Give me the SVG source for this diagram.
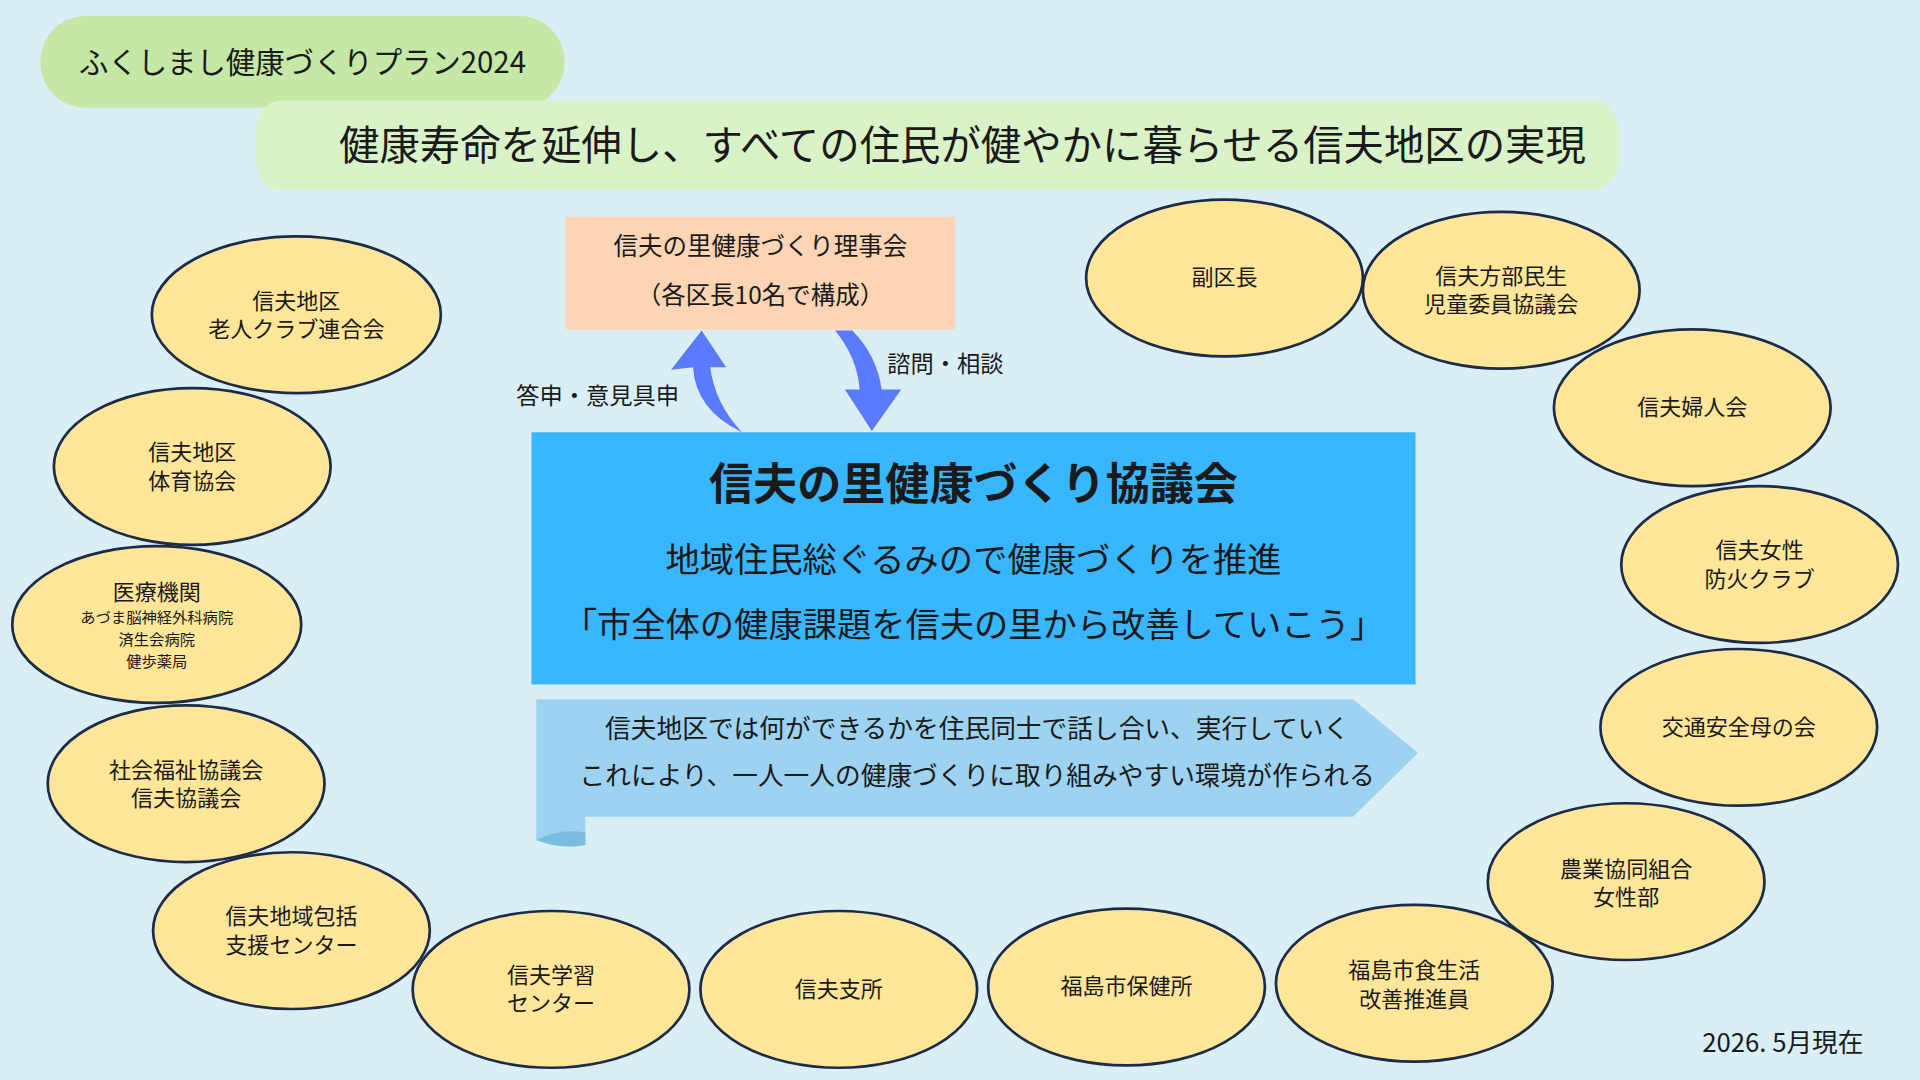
<svg xmlns="http://www.w3.org/2000/svg" width="1920" height="1080" viewBox="0 0 1920 1080">
<style>
text{font-family:"Noto Sans CJK JP","Noto Sans",sans-serif;fill:#1a1a1a;text-anchor:middle}
.n ellipse{fill:#ffe699;stroke:#1c2b4a;stroke-width:2.2}
.n text{font-size:18px}
.n text.s{font-size:12.5px}
</style>
<rect width="1920" height="1080" fill="#daeef5"/>
<g transform="scale(1.2245)">
<g id="plan"><rect x="33" y="13" width="428" height="75" rx="37" fill="#c5e8a6"/><text x="247" y="60" font-size="24">ふくしまし健康づくりプラン2024</text></g>
<g id="goal"><path d="M230 82 H1300 Q1323 82 1323 118 Q1323 155 1300 155 H230 Q208 155 208 118 Q208 82 230 82Z" fill="#d9f2c8"/><text x="786" y="131" font-size="33">健康寿命を延伸し、すべての住民が健やかに暮らせる信夫地区の実現</text></g>
<g id="board"><rect x="462" y="177" width="318" height="92" fill="#fdd5b4"/><text x="621" y="208" font-size="20">信夫の里健康づくり理事会</text><text x="621" y="248" font-size="20">（各区長10名で構成）</text></g>
<g id="council"><rect x="434" y="353" width="722" height="206" fill="#38b6ff"/><text x="795" y="408" font-size="36" font-weight="bold">信夫の里健康づくり協議会</text><text x="795" y="467" font-size="28">地域住民総ぐるみので健康づくりを推進</text><text x="795" y="520" font-size="28">「市全体の健康課題を信夫の里から改善していこう」</text></g>
<g id="action"><path d="M438 571 H1105 L1158 615 L1105 667 H478 V690 Q458 694 438 686Z" fill="#9dd3f0"/><path d="M438 686 Q458 676 478 680 V690 Q458 694 438 686Z" fill="#7bbde0"/><text x="798" y="603" font-size="21">信夫地区では何ができるかを住民同士で話し合い、実行していく</text><text x="798" y="641" font-size="21">これにより、一人一人の健康づくりに取り組みやすい環境が作られる</text></g>
<g id="connectors" fill="#5b7bff">
<path d="M606 353 Q568 335 566 300 L548 302 L573 270 L593 300 L580 300 Q584 330 606 353Z"/>
<path d="M682 270 Q700 292 702 318 L690 318 L712 352 L736 318 L720 318 Q716 290 696 270Z"/>
<text x="488" y="330" font-size="19">答申・意見具申</text><text x="772" y="304" font-size="19">諮問・相談</text>
</g>
<g class="n" id="n1"><ellipse cx="242" cy="257" rx="118" ry="64"/><text x="242" y="252">信夫地区</text><text x="242" y="275">老人クラブ連合会</text></g>
<g class="n" id="n2"><ellipse cx="157" cy="381" rx="113" ry="64"/><text x="157" y="376">信夫地区</text><text x="157" y="399">体育協会</text></g>
<g class="n" id="n3"><ellipse cx="128" cy="510" rx="118" ry="64"/><text x="128" y="490">医療機関</text><text class="s" x="128" y="509">あづま脳神経外科病院</text><text class="s" x="128" y="527">済生会病院</text><text class="s" x="128" y="545">健歩薬局</text></g>
<g class="n" id="n4"><ellipse cx="152" cy="640" rx="113" ry="64"/><text x="152" y="635">社会福祉協議会</text><text x="152" y="658">信夫協議会</text></g>
<g class="n" id="n5"><ellipse cx="238" cy="760" rx="113" ry="64"/><text x="238" y="755">信夫地域包括</text><text x="238" y="778">支援センター</text></g>
<g class="n" id="n6"><ellipse cx="450" cy="808" rx="113" ry="64"/><text x="450" y="803">信夫学習</text><text x="450" y="826">センター</text></g>
<g class="n" id="n7"><ellipse cx="685" cy="808" rx="113" ry="64"/><text x="685" y="814">信夫支所</text></g>
<g class="n" id="n8"><ellipse cx="920" cy="806" rx="113" ry="64"/><text x="920" y="812">福島市保健所</text></g>
<g class="n" id="n9"><ellipse cx="1155" cy="803" rx="113" ry="64"/><text x="1155" y="799">福島市食生活</text><text x="1155" y="822">改善推進員</text></g>
<g class="n" id="n10"><ellipse cx="1328" cy="720" rx="113" ry="64"/><text x="1328" y="716">農業協同組合</text><text x="1328" y="739">女性部</text></g>
<g class="n" id="n11"><ellipse cx="1420" cy="594" rx="113" ry="64"/><text x="1420" y="600">交通安全母の会</text></g>
<g class="n" id="n12"><ellipse cx="1437" cy="461" rx="113" ry="64"/><text x="1437" y="456">信夫女性</text><text x="1437" y="479">防火クラブ</text></g>
<g class="n" id="n13"><ellipse cx="1382" cy="333" rx="113" ry="64"/><text x="1382" y="339">信夫婦人会</text></g>
<g class="n" id="n14"><ellipse cx="1226" cy="237" rx="113" ry="64"/><text x="1226" y="232">信夫方部民生</text><text x="1226" y="255">児童委員協議会</text></g>
<g class="n" id="n15"><ellipse cx="1000" cy="227" rx="113" ry="64"/><text x="1000" y="233">副区長</text></g>
<text x="1456" y="859" font-size="21">2026. 5月現在</text>
</g>
</svg>
